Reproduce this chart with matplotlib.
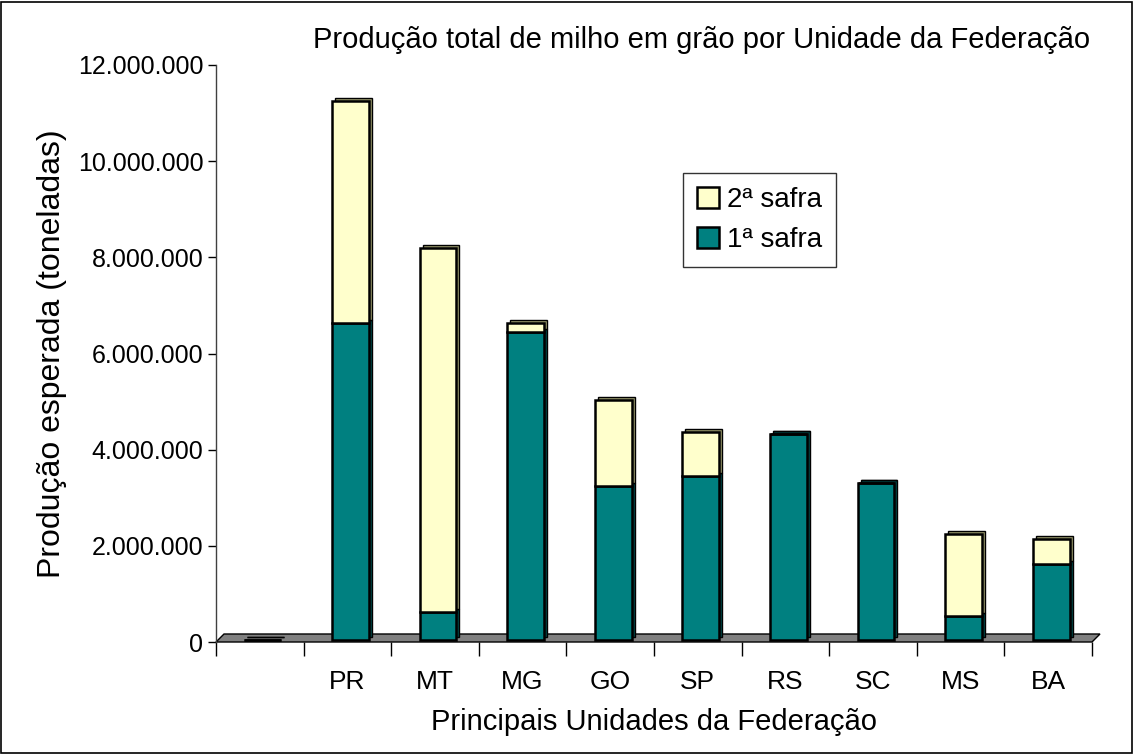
import matplotlib
matplotlib.use("Agg")
import matplotlib.pyplot as plt
from matplotlib.transforms import offset_copy, IdentityTransform
from matplotlib.ticker import FuncFormatter, FixedLocator
from matplotlib.patches import Rectangle, Polygon
import numpy as np

plt.rcParams['font.family'] = ['Liberation Sans', 'DejaVu Sans']

categories = ["", "PR", "MT", "MG", "GO", "SP", "RS", "SC", "MS", "BA"]
safra1 = [0, 6590000, 580000, 6410000, 3200000, 3410000, 4280000, 3270000, 500000, 1580000]
safra2 = [0, 4620000, 7570000, 180000, 1790000, 920000, 0, 0, 1700000, 520000]

title = "Produção total de milho em grão por Unidade da Federação"
xlabel = "Principais Unidades da Federação"
ylabel = "Produção esperada (toneladas)"
legend_labels = ["2ª safra", "1ª safra"]

W, H, DPI = 1133, 754, 100
fig = plt.figure(figsize=(W / DPI, H / DPI), dpi=DPI)
ax = fig.add_axes([216 / W, (H - 642) / H, (1092 - 216) / W, (642 - 65) / H])

x = np.arange(len(categories))
s1 = np.array(safra1)
s2 = np.array(safra2)
bw = 0.42
teal, teal_side = "#008080", "#004848"
yel, yel_side = "#FFFFCC", "#9C9C6E"

ax.set_xlim(-0.5, len(categories) - 0.5)
ax.set_ylim(0, 12000000)

# floor (3D base)
p0 = ax.transData.transform((-0.5, 0))
p1 = ax.transData.transform((len(categories) - 0.5, 0))
d = 8
floor = Polygon([(p0[0], p0[1]), (p1[0], p1[1]), (p1[0] + d, p1[1] + d), (p0[0] + d, p0[1] + d)],
                closed=True, transform=IdentityTransform(), facecolor="#808080", edgecolor="black",
                linewidth=1.0, zorder=1, clip_on=False)
ax.add_patch(floor)

# 3D depth faces: shifted copies behind the front faces
lift = offset_copy(ax.transData, fig=fig, x=3, y=2, units='dots')
lift_shift = offset_copy(ax.transData, fig=fig, x=6, y=5, units='dots')
ax.bar(x, s1, bw, color=teal_side, edgecolor="black", linewidth=1.0, transform=lift_shift, zorder=2)
ax.bar(x, s2, bw, bottom=s1, color=yel_side, edgecolor="black", linewidth=1.0, transform=lift_shift, zorder=2)
# front faces
b1 = ax.bar(x, s1, bw, color=teal, edgecolor="black", linewidth=1.8, transform=lift, zorder=3, label=legend_labels[1])
b2 = ax.bar(x, s2, bw, bottom=s1, color=yel, edgecolor="black", linewidth=1.8, transform=lift, zorder=3, label=legend_labels[0])

ax.yaxis.set_major_locator(FixedLocator(np.arange(0, 12000001, 2000000)))
ax.yaxis.set_major_formatter(FuncFormatter(lambda v, p: f"{v:,.0f}".replace(",", ".")))
ax.set_xticks(x)
ax.set_xticklabels(categories)
ax.xaxis.set_minor_locator(FixedLocator(np.arange(-0.5, len(categories), 1.0)))
ax.tick_params(axis='x', which='major', length=0, pad=20, labelsize=19)
ax.tick_params(axis='x', which='minor', length=10, width=1.0, color="black")
ax.tick_params(axis='y', length=6, width=1.0, labelsize=18, pad=3)

for sp in ["top", "right", "bottom"]:
    ax.spines[sp].set_visible(False)
ax.spines["left"].set_color("#404040")
ax.spines["left"].set_linewidth(1.0)
ax.patch.set_visible(False)

ax.set_xlabel(xlabel, fontsize=21, labelpad=10)
ax.set_ylabel(ylabel, fontsize=23, labelpad=8)
fig.text(702 / W, 1 - 40 / H, title, fontsize=21, ha="center", va="center")

leg = ax.legend(handles=[b2, b1], labels=legend_labels, loc="upper left",
                bbox_to_anchor=((683 - 216) / (1092 - 216), (642 - 173) / (642 - 65)),
                fontsize=20, frameon=True, fancybox=False, edgecolor="black",
                handlelength=0.8, handleheight=0.8, handletextpad=0.3,
                borderpad=0.5, labelspacing=0.5, borderaxespad=0)
leg.get_frame().set_linewidth(1.0)

fig.add_artist(Rectangle((0.001, 0.001), 0.998, 0.997, transform=fig.transFigure,
                         fill=False, edgecolor="black", linewidth=1.2))

fig.savefig("out.png", dpi=DPI)
